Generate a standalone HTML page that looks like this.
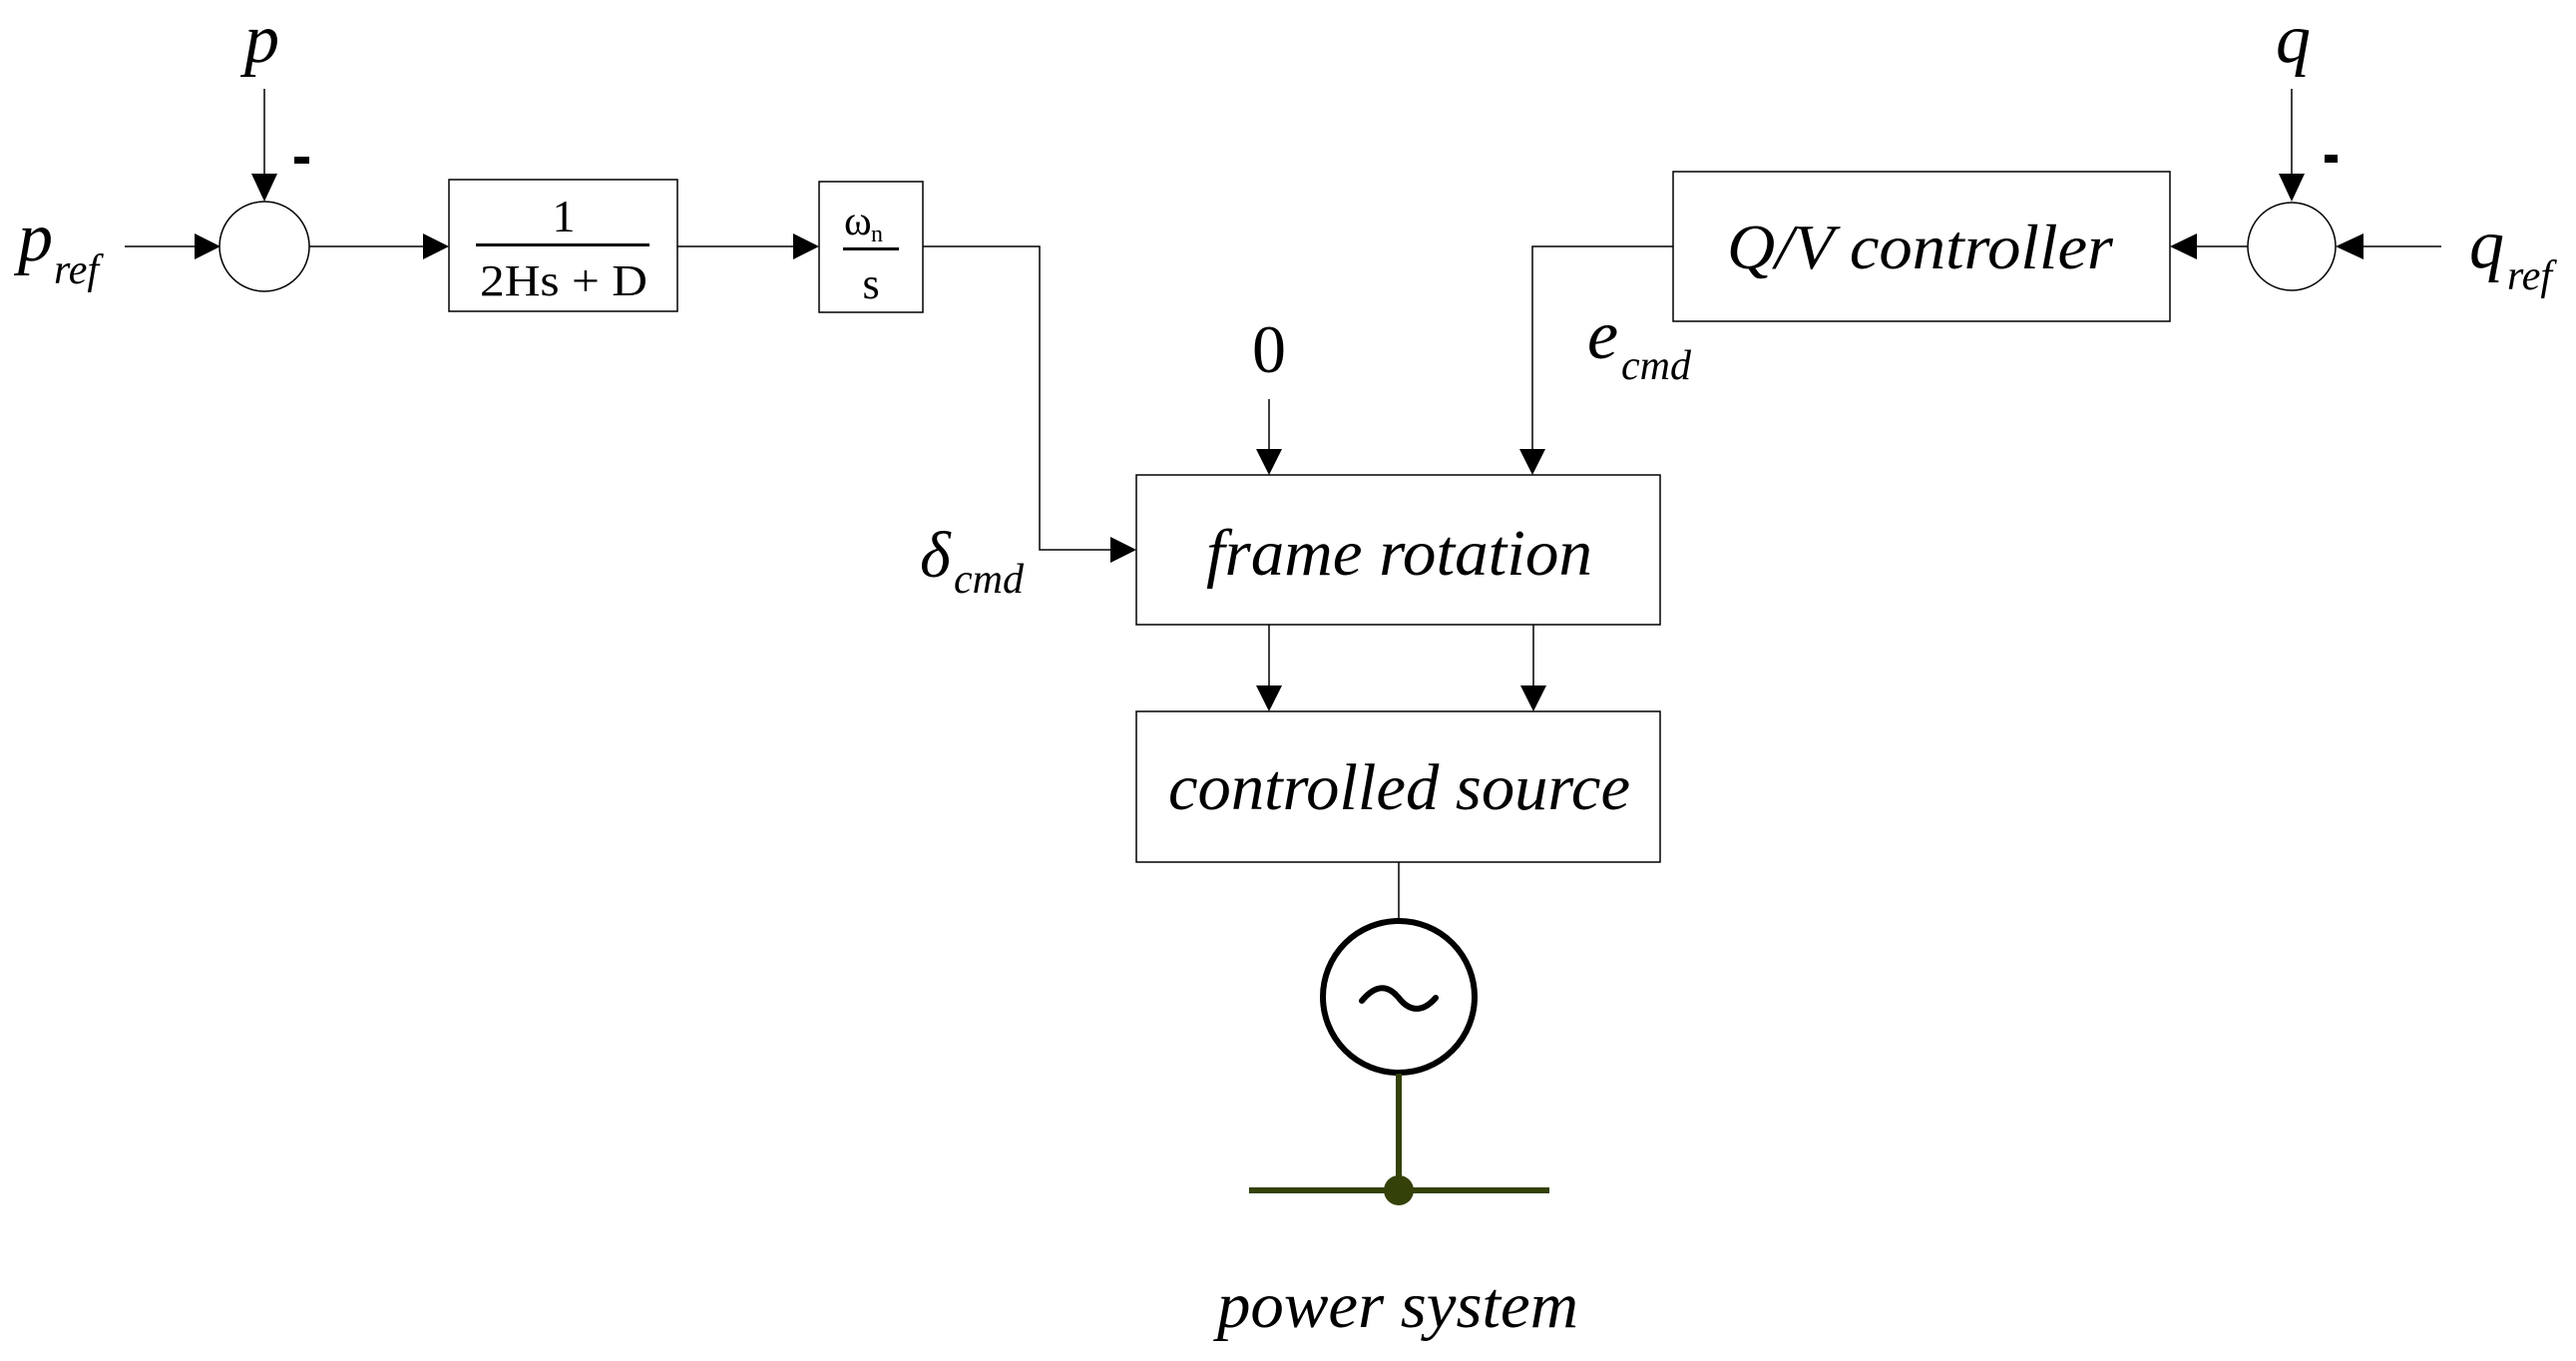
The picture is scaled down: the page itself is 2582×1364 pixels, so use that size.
<!DOCTYPE html>
<html><head><meta charset="utf-8"><style>html,body{margin:0;padding:0;background:#fff}svg{display:block}</style></head>
<body>
<svg width="2582" height="1364" viewBox="0 0 2582 1364" xmlns="http://www.w3.org/2000/svg" font-family="'Liberation Serif', serif">
<rect width="2582" height="1364" fill="#fff"/>
<g stroke="#000" stroke-width="1.5" fill="none">
<circle cx="265" cy="247" r="45"/>
<line x1="265" y1="89" x2="265" y2="180"/>
<line x1="125" y1="247" x2="200" y2="247"/>
<line x1="310" y1="247" x2="428" y2="247"/>
<rect x="450" y="180" width="229" height="132"/>
<line x1="679" y1="247" x2="798" y2="247"/>
<rect x="821" y="182" width="104" height="131"/>
<polyline points="925,247 1042,247 1042,551 1116,551"/>
<circle cx="2297" cy="247" r="44"/>
<line x1="2297" y1="89" x2="2297" y2="180"/>
<line x1="2447" y1="247" x2="2366" y2="247"/>
<line x1="2253" y1="247" x2="2198" y2="247"/>
<rect x="1677" y="172" width="498" height="150"/>
<polyline points="1677,247 1536,247 1536,452"/>
<line x1="1272" y1="400" x2="1272" y2="452"/>
<rect x="1139" y="476" width="525" height="150"/>
<line x1="1272" y1="626" x2="1272" y2="690"/>
<line x1="1537" y1="626" x2="1537" y2="690"/>
<rect x="1139" y="713" width="525" height="151"/>
<line x1="1402" y1="864" x2="1402" y2="923"/>
</g>
<g fill="#000">
<polygon points="252,174 278,174 265,202"/>
<polygon points="195,234 195,260 221,247"/>
<polygon points="424,234 424,260 450,247"/>
<polygon points="795,234 795,260 821,247"/>
<polygon points="1113,538 1113,564 1139,551"/>
<polygon points="2284,174 2310,174 2297,202"/>
<polygon points="2369,234 2369,260 2341,247"/>
<polygon points="2202,234 2202,260 2175,247"/>
<polygon points="1523,450 1549,450 1536,476"/>
<polygon points="1259,450 1285,450 1272,476"/>
<polygon points="1259,687 1285,687 1272,713"/>
<polygon points="1524,687 1550,687 1537,713"/>
<rect x="295" y="157" width="15" height="7"/>
<rect x="2330" y="155" width="13" height="8"/>
<rect x="477" y="244" width="174" height="3"/>
<rect x="845" y="248" width="56" height="3"/>
</g>
<circle cx="1402" cy="999" r="76" fill="none" stroke="#000" stroke-width="6"/>
<path d="M1365,1003 C1380,985 1392,988 1402,1000 C1412,1013 1425,1016 1439,1000" fill="none" stroke="#000" stroke-width="6" stroke-linecap="round"/>
<g stroke="#344108" stroke-width="6">
<line x1="1402" y1="1076" x2="1402" y2="1193"/>
<line x1="1252" y1="1193" x2="1553" y2="1193"/>
</g>
<circle cx="1402" cy="1193" r="15" fill="#344108"/>
<g fill="#000" font-style="italic">
<text x="245" y="62" font-size="70">p</text>
<text x="18" y="261" font-size="70">p</text>
<text x="54" y="284" font-size="42">ref</text>
<text x="2281" y="62" font-size="70">q</text>
<text x="2475" y="268" font-size="70">q</text>
<text x="2513" y="290" font-size="42">ref</text>
<text x="1591" y="359" font-size="70">e</text>
<text x="1625" y="380" font-size="42">cmd</text>
<text x="922" y="578" font-size="66">δ</text>
<text x="956" y="594" font-size="42">cmd</text>
<text x="1731" y="269" font-size="64" textLength="387" lengthAdjust="spacingAndGlyphs">Q/V controller</text>
<text x="1209" y="576" font-size="66" textLength="387" lengthAdjust="spacingAndGlyphs">frame rotation</text>
<text x="1171" y="811" font-size="66" textLength="463" lengthAdjust="spacingAndGlyphs">controlled source</text>
<text x="1220" y="1330" font-size="66" textLength="362" lengthAdjust="spacingAndGlyphs">power system</text>
</g>
<g fill="#000">
<text x="1272" y="373" font-size="68" text-anchor="middle">0</text>
<text x="565" y="232" font-size="46" text-anchor="middle">1</text>
<text x="481" y="296" font-size="44" textLength="168" lengthAdjust="spacingAndGlyphs">2Hs + D</text>
<text x="846" y="235" font-size="42">ω</text>
<text x="873" y="242" font-size="24">n</text>
<text x="873" y="299" font-size="44" text-anchor="middle">s</text>
</g>
</svg>
</body></html>
